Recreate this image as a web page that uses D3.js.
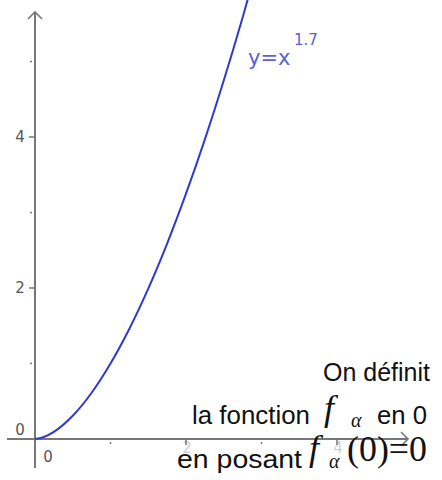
<!DOCTYPE html>
<html>
<head>
<meta charset="utf-8">
<script src="https://cdn.jsdelivr.net/npm/d3@7"></script>
<style>
  body { margin: 0; background: #fff; }
  svg { display: block; }
</style>
</head>
<body>
<div class="chart"></div>
<script>
// curve samples of y = x^1.7
const curveX = [0, 0.1, 0.25, 0.5, 0.75, 1, 1.25, 1.5, 1.75, 2, 2.25, 2.5, 2.75, 3]
const curveY = [0, 0.020, 0.095, 0.308, 0.613, 1, 1.461, 1.992, 2.589, 3.249, 3.969, 4.748, 5.583, 6.473]
const xTicks = [1, 2, 3, 4]
const yTicks = [1, 2, 3, 4, 5]
const xLabels = [2, 4]
const yLabels = [2, 4]

let width = 442, height = 480
let axisColor = '#777', labelColor = '#555', curveColor = '#3038d2'

let x = d3.scaleLinear().domain([0, 4]).range([35, 337])
let y = d3.scaleLinear().domain([0, 4]).range([439, 137])

let svg = d3.select('.chart')
    .append('svg')
    .attr('width', width)
    .attr('height', height)

svg.append('clipPath').attr('id', 'clip')
    .append('rect')
    .attr('x', 0).attr('y', 0).attr('width', width).attr('height', height)

// axes lines
svg.append('line')
    .attr('x1', 7).attr('x2', 407)
    .attr('y1', y(0)).attr('y2', y(0))
    .attr('stroke', axisColor).attr('stroke-width', 2)
svg.append('line')
    .attr('x1', x(0)).attr('x2', x(0))
    .attr('y1', 13).attr('y2', 468)
    .attr('stroke', axisColor).attr('stroke-width', 2)

// arrows
svg.append('path')
    .attr('d', `M${x(0) - 7},${19} L${x(0)},${12} L${x(0) + 7},${19}`)
    .attr('fill', 'none').attr('stroke', axisColor).attr('stroke-width', 1.6)
svg.append('path')
    .attr('d', `M${401},${y(0) - 7} L${408},${y(0)} L${401},${y(0) + 7}`)
    .attr('fill', 'none').attr('stroke', axisColor).attr('stroke-width', 1.6)

// ticks
svg.append('g')
    .selectAll('line')
    .data(yTicks)
    .join('line')
    .attr('x1', d => d % 2 === 0 ? x(0) - 6 : x(0) - 5)
    .attr('x2', d => d % 2 === 0 ? x(0) : x(0) - 3)
    .attr('y1', d => y(d)).attr('y2', d => y(d))
    .attr('stroke', axisColor).attr('stroke-width', 1.5)
svg.append('g')
    .selectAll('line')
    .data(xTicks)
    .join('line')
    .attr('x1', d => x(d)).attr('x2', d => x(d))
    .attr('y1', d => d % 2 === 0 ? y(0) : y(0) + 3)
    .attr('y2', d => d % 2 === 0 ? y(0) + 6 : y(0) + 5)
    .attr('stroke', axisColor).attr('stroke-width', 1.5)

// tick labels
let lab = svg.append('g')
    .attr('font-family', 'DejaVu Sans, sans-serif')
    .attr('font-size', 15)
    .attr('fill', labelColor)
lab.selectAll('text.yl')
    .data(yLabels)
    .join('text')
    .attr('class', 'yl')
    .attr('x', 20).attr('y', d => y(d) + 5)
    .attr('text-anchor', 'middle')
    .text(d => d)
lab.selectAll('text.xl')
    .data(xLabels)
    .join('text')
    .attr('class', 'xl')
    .attr('x', d => x(d) + 1).attr('y', y(0) + 14)
    .attr('text-anchor', 'middle')
    .attr('fill-opacity', 0.3)
    .text(d => d)
lab.append('text').attr('x', 20).attr('y', y(0) - 4).attr('text-anchor', 'middle').text('0')
lab.append('text').attr('x', 48).attr('y', y(0) + 23).attr('text-anchor', 'middle').text('0')

// curve
let pts = curveX.map((d, i) => [d, curveY[i]])
svg.append('path')
    .datum(pts)
    .attr('clip-path', 'url(#clip)')
    .attr('fill', 'none')
    .attr('stroke', curveColor)
    .attr('stroke-width', 2)
    .attr('d', d3.line().x(d => x(d[0])).y(d => y(d[1])).curve(d3.curveMonotoneX))

// curve label
let cl = svg.append('text')
    .attr('font-family', 'DejaVu Sans, sans-serif')
    .attr('fill', '#5862da')
cl.append('tspan').attr('x', 248).attr('y', 65).attr('font-size', 21).text('y=x')
cl.append('tspan').attr('x', 294).attr('y', 45).attr('font-size', 15).text('1.7')

// annotation text
let sans = 'Liberation Sans, Arial, sans-serif'
let serif = 'Liberation Serif, Times New Roman, serif'
let ann = svg.append('g').attr('fill', '#111')
ann.append('text').attr('x', 323).attr('y', 381)
    .attr('font-family', sans).attr('font-size', 25)
    .attr('textLength', 107).attr('lengthAdjust', 'spacingAndGlyphs').text('On définit')

ann.append('text').attr('x', 192).attr('y', 424)
    .attr('font-family', sans).attr('font-size', 25)
    .attr('textLength', 118).attr('lengthAdjust', 'spacingAndGlyphs').text('la fonction')
ann.append('text').attr('x', 324).attr('y', 420)
    .attr('font-family', serif).attr('font-style', 'italic').attr('font-size', 36).text('f')
ann.append('text').attr('x', 351).attr('y', 427)
    .attr('font-family', serif).attr('font-style', 'italic').attr('font-size', 20).text('α')
ann.append('text').attr('x', 377).attr('y', 424)
    .attr('font-family', sans).attr('font-size', 25)
    .attr('textLength', 50).attr('lengthAdjust', 'spacingAndGlyphs').text('en 0')

ann.append('text').attr('x', 177).attr('y', 468)
    .attr('font-family', sans).attr('font-size', 25)
    .attr('textLength', 125).attr('lengthAdjust', 'spacingAndGlyphs').text('en posant')
ann.append('text').attr('x', 309).attr('y', 460)
    .attr('font-family', serif).attr('font-style', 'italic').attr('font-size', 36).text('f')
ann.append('text').attr('x', 329).attr('y', 468)
    .attr('font-family', serif).attr('font-style', 'italic').attr('font-size', 20).text('α')
ann.append('text').attr('x', 347).attr('y', 461)
    .attr('font-family', serif).attr('font-size', 35)
    .attr('textLength', 80).attr('lengthAdjust', 'spacingAndGlyphs').text('(0)=0')
</script>
</body>
</html>
